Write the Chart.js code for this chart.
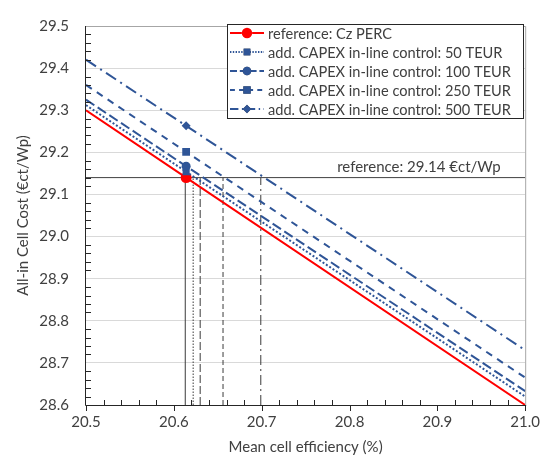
<!DOCTYPE html>
<html>
<head>
<meta charset="utf-8">
<script src="https://cdn.jsdelivr.net/npm/chart.js@4.4.1/dist/chart.umd.min.js"></script>
<style>
  html, body { margin: 0; padding: 0; background: #fff; }
  #wrap { width: 548px; height: 459px; }
</style>
</head>
<body>
<div id="wrap"><canvas id="costChart"></canvas></div>
<script>
// Chart data
const effRange = [20.5, 21.0];
const seriesNames = [
    'reference: Cz PERC',
    'add. CAPEX in-line control: 50 TEUR',
    'add. CAPEX in-line control: 100 TEUR',
    'add. CAPEX in-line control: 250 TEUR',
    'add. CAPEX in-line control: 500 TEUR'
];
const costAtStart = [29.300, 29.312, 29.325, 29.360, 29.420];
const costAtEnd = [28.600, 28.620, 28.633, 28.665, 28.730];
const markerEff = 20.614;
const markerCost = [29.140, 29.154, 29.167, 29.201, 29.263];
const breakEvenEff = [20.613, 20.622, 20.630, 20.656, 20.699];
const refCost = 29.14;
const refLabel = 'reference: 29.14 €ct/Wp';
const costMin = 28.6, costMax = 29.5;

const RED = '#FF0000';
const BLUE = '#2F5597';
const GREY = '#404040';
const FONT = 'Lato, "Open Sans", sans-serif';

const lineColors = [RED, BLUE, BLUE, BLUE, BLUE];
const lineDash = [[], [2, 2], [10, 4], [7, 6], [12, 5, 2, 5]];
const markerStyle = ['circle', 'rect', 'circle', 'rect', 'rectRot'];
const markerSize = [5.5, 5, 4.5, 5.5, 4.5];
const dropDash = [[], [1.5, 1.5], [8, 3], [5, 3], [10, 4, 2, 4]];

const datasets = [];

// the five cost lines, marker only at the reference efficiency
seriesNames.forEach((name, i) => {
    datasets.push({
        label: name,
        data: [
            { x: effRange[0], y: costAtStart[i] },
            { x: markerEff, y: markerCost[i] },
            { x: effRange[1], y: costAtEnd[i] }
        ],
        showLine: true,
        borderColor: lineColors[i],
        backgroundColor: lineColors[i],
        borderWidth: 2,
        borderDash: lineDash[i],
        pointStyle: markerStyle[i],
        pointRadius: [0, markerSize[i], 0],
        pointBorderWidth: 0,
        order: i === 0 ? 6 : 5 - i
    });
});

// horizontal reference cost line
datasets.push({
    label: 'refLine',
    data: [{ x: effRange[0], y: refCost }, { x: effRange[1], y: refCost }],
    showLine: true,
    borderColor: GREY,
    borderWidth: 1,
    pointRadius: 0,
    order: 10
});

// drop lines from the break-even efficiency down to the axis
breakEvenEff.forEach((e, i) => {
    datasets.push({
        label: 'drop' + i,
        data: [{ x: e, y: costMin }, { x: e, y: refCost }],
        showLine: true,
        borderColor: '#3a3a3a',
        borderWidth: 1,
        borderDash: dropDash[i],
        pointRadius: 0,
        order: 10
    });
});

// frame, minor ticks, reference label and the boxed legend
const decorations = {
    id: 'decorations',
    beforeDatasetsDraw(chart) {
        const { ctx, chartArea: a } = chart;
        ctx.save();
        ctx.strokeStyle = '#A6A6A6';
        ctx.lineWidth = 1;
        ctx.beginPath();
        ctx.moveTo(a.left, a.top + 0.5);
        ctx.lineTo(a.right + 0.5, a.top + 0.5);
        ctx.lineTo(a.right + 0.5, a.bottom);
        ctx.stroke();
        ctx.restore();
    },
    afterDatasetsDraw(chart) {
        const { ctx, chartArea: a, scales } = chart;
        const xs = scales.x, ys = scales.y;
        ctx.save();
        ctx.strokeStyle = '#262626';
        ctx.lineWidth = 1;
        // axis lines
        ctx.beginPath();
        ctx.moveTo(a.left - 0.5, a.top);
        ctx.lineTo(a.left - 0.5, a.bottom + 0.5);
        ctx.lineTo(a.right + 1, a.bottom + 0.5);
        ctx.stroke();
        // x minor ticks (inside) and major ticks (outside)
        ctx.beginPath();
        for (let k = 0; k <= 25; k++) {
            const v = effRange[0] + k * 0.02;
            const px = Math.round(xs.getPixelForValue(v)) + 0.5;
            if (k % 5 === 0) {
                ctx.moveTo(px, a.bottom);
                ctx.lineTo(px, a.bottom + 6);
            } else {
                ctx.moveTo(px, a.bottom);
                ctx.lineTo(px, a.bottom - 5);
            }
        }
        // y minor ticks (inside)
        for (let k = 1; k < 45; k++) {
            if (k % 5 === 0) continue;
            const v = costMin + k * 0.02;
            const py = Math.round(ys.getPixelForValue(v)) + 0.5;
            ctx.moveTo(a.left, py);
            ctx.lineTo(a.left + 5, py);
        }
        ctx.stroke();

        // reference label
        ctx.fillStyle = GREY;
        ctx.font = '15px ' + FONT;
        ctx.textAlign = 'right';
        ctx.textBaseline = 'alphabetic';
        ctx.fillText(refLabel, xs.getPixelForValue(20.972), ys.getPixelForValue(refCost) - 6);

        // legend box
        const bx = 227, by = 24, bw = 296, bh = 94;
        ctx.fillStyle = '#fff';
        ctx.fillRect(bx, by, bw, bh);
        ctx.strokeStyle = '#262626';
        ctx.strokeRect(bx + 0.5, by + 0.5, bw, bh);
        seriesNames.forEach((name, i) => {
            const ry = 33 + i * 19;
            ctx.strokeStyle = lineColors[i];
            ctx.lineWidth = 2;
            ctx.setLineDash(lineDash[i].map(d => d * 0.7));
            ctx.beginPath();
            ctx.moveTo(230, ry);
            ctx.lineTo(264, ry);
            ctx.stroke();
            ctx.setLineDash([]);
            Chart.helpers.drawPoint(ctx, {
                pointStyle: markerStyle[i],
                radius: markerSize[i] * 0.95,
                borderWidth: 0
            }, 247, ry);
            ctx.fillStyle = lineColors[i];
            ctx.fill();
            ctx.fillStyle = GREY;
            ctx.font = '14.6px ' + FONT;
            ctx.textAlign = 'left';
            ctx.textBaseline = 'middle';
            ctx.fillText(name, 268, ry + 1);
        });
        ctx.restore();
    }
};

new Chart(document.getElementById('costChart'), {
    type: 'scatter',
    data: { datasets: datasets },
    options: {
        responsive: true,
        maintainAspectRatio: false,
        animation: false,
        layout: { padding: { top: 19, right: 20, left: 0, bottom: 0 } },
        plugins: {
            legend: { display: false },
            tooltip: { enabled: false }
        },
        scales: {
            x: {
                type: 'linear',
                min: effRange[0],
                max: effRange[1],
                afterFit: s => { s.height = 54; },
                border: { display: false },
                grid: { display: false, drawTicks: false },
                ticks: {
                    stepSize: 0.1,
                    padding: 8,
                    color: GREY,
                    font: { family: FONT, size: 15 },
                    callback: v => v.toFixed(1)
                },
                title: {
                    display: true,
                    text: 'Mean cell efficiency (%)',
                    color: GREY,
                    font: { family: FONT, size: 15 },
                    padding: { top: 0, bottom: 3 }
                }
            },
            y: {
                type: 'linear',
                min: costMin,
                max: costMax,
                afterFit: s => { s.width = 86; },
                border: { display: false },
                grid: {
                    drawTicks: false,
                    color: ctx => (ctx.tick && ctx.tick.value > costMin + 0.01 && ctx.tick.value < costMax - 0.01) ? '#D9D9D9' : 'rgba(0,0,0,0)'
                },
                ticks: {
                    stepSize: 0.1,
                    padding: 17,
                    color: GREY,
                    font: { family: FONT, size: 15 },
                    callback: v => v.toFixed(1)
                },
                title: {
                    display: true,
                    text: 'All-in Cell Cost (€ct/Wp)',
                    color: GREY,
                    font: { family: FONT, size: 15 },
                    padding: { top: 14, bottom: 0 }
                }
            }
        }
    },
    plugins: [decorations]
});
</script>
</body>
</html>
